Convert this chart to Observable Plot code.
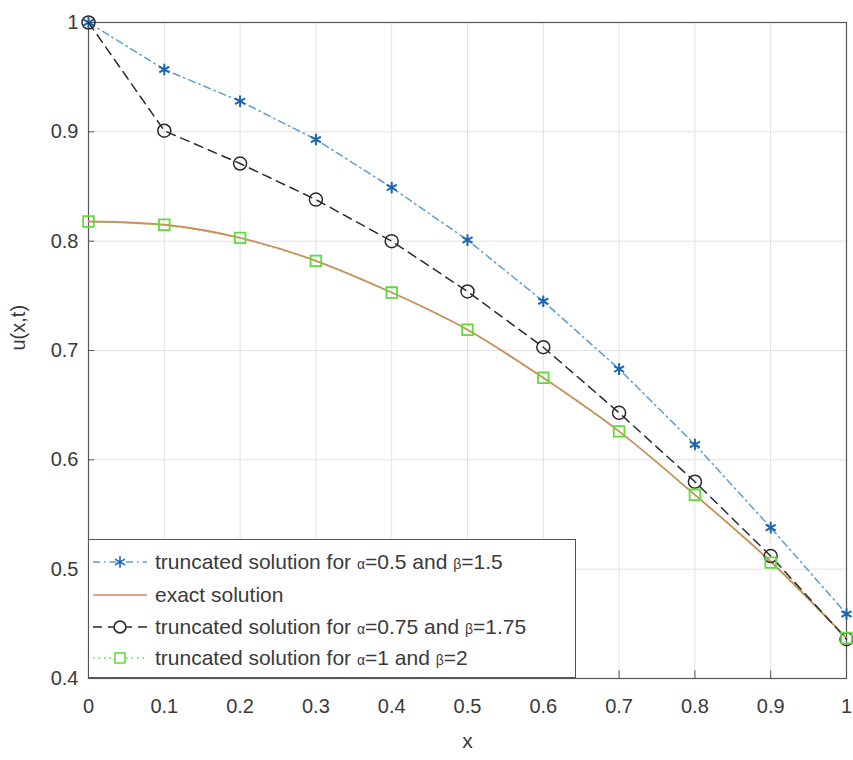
<!DOCTYPE html>
<html>
<head>
<meta charset="utf-8">
<script src="https://cdn.jsdelivr.net/npm/d3@7"></script>
<script src="https://cdn.jsdelivr.net/npm/@observablehq/plot@0.6"></script>
<style>
  body { margin: 0; background: #fff; font-family: "Liberation Sans", Arial, sans-serif; }
  #wrap { position: relative; width: 853px; height: 760px; }
  #legend { position: absolute; left: 88px; top: 539px; width: 488px; height: 139px; border: 1px solid #555; background: #fff; box-sizing: border-box; }
  .entry { position: absolute; left: 0; height: 30px; display: flex; align-items: center; font-size: 21px; color: #3a3a3a; white-space: nowrap; }
  .entry svg { width: 62px; height: 30px; margin-right: 4px; flex: none; }
  .g { font-size: 14px; }
</style>
</head>
<body>
<div id="wrap"><div id="chart"></div><div id="legend"></div></div>
<script>
const xs = [0, 0.1, 0.2, 0.3, 0.4, 0.5, 0.6, 0.7, 0.8, 0.9, 1.0];
const alpha05 = [1.000, 0.957, 0.928, 0.893, 0.849, 0.801, 0.745, 0.683, 0.614, 0.538, 0.459];
const alpha075 = [1.000, 0.901, 0.871, 0.838, 0.800, 0.754, 0.703, 0.643, 0.580, 0.512, 0.436];
const alpha1 = [0.818, 0.815, 0.803, 0.782, 0.753, 0.719, 0.675, 0.626, 0.568, 0.506, 0.437];
const exact = [0.818, 0.815, 0.803, 0.782, 0.753, 0.719, 0.675, 0.626, 0.568, 0.507, 0.437];
const xTicks = [0, 0.1, 0.2, 0.3, 0.4, 0.5, 0.6, 0.7, 0.8, 0.9, 1];
const xTickLabels = ["0", "0.1", "0.2", "0.3", "0.4", "0.5", "0.6", "0.7", "0.8", "0.9", "1"];
const yTicks = [0.4, 0.5, 0.6, 0.7, 0.8, 0.9, 1];
const yTickLabels = ["0.4", "0.5", "0.6", "0.7", "0.8", "0.9", "1"];
const legendLabels = [
  ["truncated solution for ", "α", "=0.5 and ", "β", "=1.5"],
  ["exact solution"],
  ["truncated solution for ", "α", "=0.75 and ", "β", "=1.75"],
  ["truncated solution for ", "α", "=1 and ", "β", "=2"]
];

const toRows = (ys) => xs.map((x, i) => ({x, y: ys[i]}));
const blue = toRows(alpha05), black = toRows(alpha075), green = toRows(alpha1), ex = toRows(exact);

const C = { blueLine: "#5b9fd6", blueMark: "#1b64b0", exact: "#d08a5c", black: "#2a2a2a", green: "#5fdc3c" };
const lab = (ticks, labels) => (d) => labels[ticks.findIndex(t => Math.abs(t - d) < 1e-9)];

const chart = Plot.plot({
  width: 853, height: 760,
  marginLeft: 88, marginRight: 7, marginTop: 22, marginBottom: 82,
  x: { domain: [0, 1] },
  y: { domain: [0.4, 1] },
  style: { color: "#3a3a3a", fontFamily: "Liberation Sans, Arial, sans-serif" },
  marks: [
    Plot.gridX(xTicks, { stroke: "#e2e2e2", strokeOpacity: 1 }),
    Plot.gridY(yTicks, { stroke: "#e2e2e2", strokeOpacity: 1 }),
    Plot.frame({ stroke: "#555", strokeWidth: 1.2 }),
    Plot.ruleX(xTicks, { x: d => d, y1: 0.4, y2: 0.407, stroke: "#555" }),
    Plot.ruleY(yTicks, { y: d => d, x1: 0, x2: 0.008, stroke: "#555" }),
    Plot.axisX(xTicks, { tickFormat: lab(xTicks, xTickLabels), label: null, tickSize: 0, tickPadding: 20, fontSize: 20 }),
    Plot.axisY(yTicks, { tickFormat: lab(yTicks, yTickLabels), label: null, tickSize: 0, tickPadding: 10, fontSize: 20 }),
    Plot.line(blue, { x: "x", y: "y", stroke: C.blueLine, strokeWidth: 1.5, strokeDasharray: "7,4,1.5,4" }),
    Plot.dot(blue, { x: "x", y: "y", symbol: "asterisk", r: 5.5, stroke: C.blueMark, strokeWidth: 2 }),
    Plot.line(ex, { x: "x", y: "y", stroke: C.exact, strokeWidth: 1.8, curve: "natural" }),
    Plot.line(black, { x: "x", y: "y", stroke: C.black, strokeWidth: 1.5, strokeDasharray: "9,6" }),
    Plot.dot(black, { x: "x", y: "y", symbol: "circle", r: 6.5, stroke: C.black, strokeWidth: 1.5, fill: "none" }),
    Plot.line(green, { x: "x", y: "y", stroke: C.green, strokeWidth: 1, strokeDasharray: "1.5,4", strokeOpacity: 0.6 }),
    Plot.dot(green, { x: "x", y: "y", symbol: "square", r: 6, stroke: C.green, strokeWidth: 1.8, fill: "none" }),
    Plot.text(["x"], { frameAnchor: "bottom", dy: 69, fontSize: 21, fill: "#3a3a3a" }),
    Plot.text(["u(x,t)"], { frameAnchor: "left", dx: -70, rotate: -90, fontSize: 20, fill: "#3a3a3a" })
  ]
});
document.getElementById("chart").appendChild(chart);

// legend
const legend = document.getElementById("legend");
const samples = [
  { stroke: C.blueLine, dash: "7,4,1.5,4", symbol: d3.symbolAsterisk, mark: C.blueMark, size: 90 },
  { stroke: C.exact, dash: null, symbol: null },
  { stroke: C.black, dash: "9,6", symbol: d3.symbolCircle, mark: C.black, size: 110 },
  { stroke: C.green, dash: "1.5,4", symbol: d3.symbolSquare, mark: C.green, size: 100 }
];
const tops = [7, 40, 72, 103];
legendLabels.forEach((parts, i) => {
  const e = document.createElement("div");
  e.className = "entry";
  e.style.top = tops[i] + "px";
  const s = samples[i];
  let svg = `<svg viewBox="0 0 62 30"><line x1="4" x2="58" y1="15" y2="15" stroke="${s.stroke}" stroke-width="1.4" ${s.dash ? `stroke-dasharray="${s.dash}"` : ""}/>`;
  if (s.symbol) svg += `<path transform="translate(31,15)" d="${d3.symbol(s.symbol, s.size)()}" fill="${s.symbol === d3.symbolAsterisk ? "none" : "#fff"}" stroke="${s.mark}" stroke-width="1.6"/>`;
  svg += `</svg>`;
  const txt = parts.map(p => (p === "α" || p === "β") ? `<span class="g">${p}</span>` : p).join("");
  e.innerHTML = svg + `<span>${txt}</span>`;
  legend.appendChild(e);
});
</script>
</body>
</html>
